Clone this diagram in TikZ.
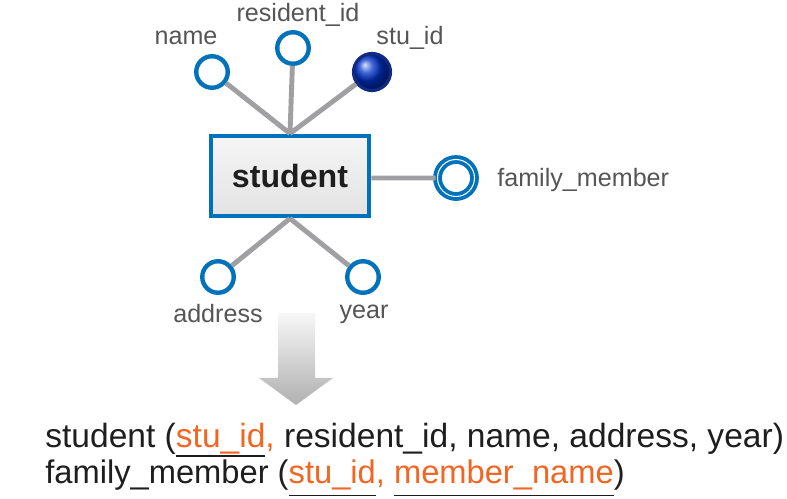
\documentclass[tikz,border=0pt]{standalone}
\usepackage{fontspec}
\setmainfont{Liberation Sans}
\usepackage{xcolor}
\usetikzlibrary{positioning, shadings}

\definecolor{ringblue}{RGB}{0,114,188}
\definecolor{navyblue}{RGB}{16,42,131}
\definecolor{linkgray}{RGB}{160,160,162}
\definecolor{labelgray}{RGB}{85,85,85}
\definecolor{keyorange}{RGB}{242,101,34}
\definecolor{textblack}{RGB}{30,30,30}

% key column: orange text, black rule under it
\newcommand{\keycol}[2][5.5pt]{\setbox0\hbox{\textcolor{keyorange}{#2}}%
  \rlap{\color{textblack}\rule[-#1]{\wd0}{0.9pt}}\box0}

\tikzset{
  entity/.style={rectangle, draw=ringblue, line width=2.8pt, top color=gray!8,
    bottom color=gray!22, minimum width=3.16cm, minimum height=1.6cm,
    font=\fontsize{18.3}{20}\selectfont\bfseries, text=textblack},
  attr/.style={circle, draw=ringblue, fill=white, line width=2.5pt,
    minimum size=0.63cm, inner sep=0pt},
  keyattr/.style={circle, draw=navyblue, line width=1.8pt, minimum size=0.74cm,
    inner sep=0pt, shading=ball, ball color=blue!75!cyan!80!black},
  multiattr/.style={circle, draw=ringblue, double=white, double distance=0.6pt,
    line width=2.2pt, minimum size=0.74cm, inner sep=0pt, fill=white},
  attrlabel/.style={text=labelgray, font=\fontsize{14.3}{16}\selectfont, inner sep=0pt},
  link/.style={draw=linkgray, line width=2.8pt},
  relation/.style={anchor=base west, text=textblack, inner sep=0pt,
    font=\fontsize{19.1}{22}\selectfont}
}

\begin{document}
\begin{tikzpicture}[x=0.02cm, y=-0.02cm]
  \useasboundingbox (0,0) rectangle (787,499);

  \node[entity] (student) at (290,176) {student};

  \node[attr] (name) at (212,72) {};
  \node[attr] (resid) at (293,48) {};
  \node[keyattr] (stuid) at (372,72) {};
  \node[multiattr] (family) at (456,178) {};
  \node[attr] (address) at (218,277) {};
  \node[attr] (year) at (363,277) {};

  \node[attrlabel] (namel) at (186,38) {name};
  \node[attrlabel] (residl) at (298,15) {resident\_id};
  \node[attrlabel] (stuidl) at (410,38) {stu\_id};
  \node[attrlabel, anchor=west] (familyl) at (497,180) {family\_member};
  \node[attrlabel] (addressl) at (218,314) {address};
  \node[attrlabel] (yearl) at (364,314) {year};

  \path[link] (name) -- (student.north)
              (resid) -- (student.north)
              (stuid) -- (student.north)
              (family -| student.east) -- (family)
              (student.south) -- (address)
              (student.south) -- (year);

  % mapping arrow
  \shade[top color=gray!6, bottom color=gray!62]
    (278,313) -- (315,313) -- (315,378) -- (333,378) -- (296,405)
    -- (259,378) -- (278,378) -- cycle;

  \node[relation] (rel1) at (45,447)
    {student (\keycol{stu\_id}\textcolor{keyorange}{,} resident\_id, name, address, year)};
  \node[relation, font=\fontsize{18.6}{22}\selectfont] (rel2) at (45,483)
    {family\_member (\keycol[7.5pt]{stu\_id}\textcolor{keyorange}{,} \keycol[7.5pt]{member\_name})};
\end{tikzpicture}
\end{document}
